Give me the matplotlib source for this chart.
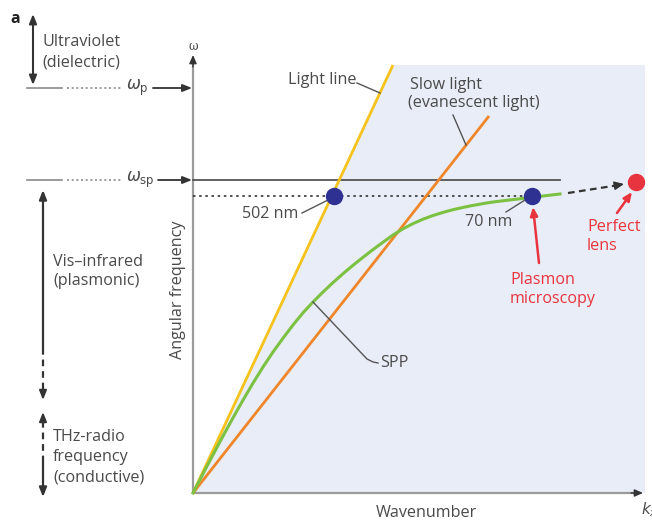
import matplotlib
matplotlib.use("Agg")
import matplotlib.pyplot as plt
from matplotlib.patches import Polygon

plt.rcParams['font.family'] = ['Open Sans', 'DejaVu Sans']

# ---- dispersion data (arbitrary units: wavenumber k, angular frequency w) ----
light_k = [0.0, 2.00]
light_w = [0.0, 4.28]

slow_k = [0.0, 2.96]
slow_w = [0.0, 3.77]

spp_k = [0.0, 0.1, 0.2, 0.3, 0.4, 0.5, 0.6, 0.7, 0.8, 0.9, 1.0, 1.1, 1.2,
         1.3, 1.4, 1.5, 1.6, 1.7, 1.8, 1.9, 2.0, 2.1, 2.2, 2.3, 2.4, 2.5,
         2.6, 2.7, 2.8, 2.9, 3.0, 3.1, 3.2, 3.3, 3.4, 3.5, 3.67]
spp_w = [0.0, 0.192, 0.382, 0.569, 0.752, 0.929, 1.099, 1.260, 1.410,
         1.548, 1.680, 1.802, 1.910, 2.010, 2.104, 2.193, 2.277, 2.357,
         2.434, 2.508, 2.580, 2.642, 2.694, 2.738, 2.775, 2.806, 2.833,
         2.856, 2.876, 2.894, 2.910, 2.922, 2.934, 2.946, 2.958, 2.970,
         2.990]

w_p = 4.05
w_sp = 3.13
w_sp_end = 3.67
w_dot = 2.97

dot_502_k, dot_502_w = 1.41, 2.97
dot_70_k, dot_70_w = 3.39, 2.97
lens_k, lens_w = 4.43, 3.11

shade_top = 4.28
shade_right = 4.52
k_axis_end = 4.50
w_axis_end = 4.38

# ---- colours ----
c_text = '#4a4a4a'
c_axis = '#9b9b9b'
c_dark = '#333333'
c_yellow = '#f6c21c'
c_orange = '#f0862a'
c_green = '#7cc142'
c_navy = '#2e3192'
c_red = '#e8343e'
c_shade = '#e8edf7'

fig = plt.figure(figsize=(6.52, 5.25), dpi=100)
ax = fig.add_axes([0, 0, 1, 1])
ax.set_xlim(-1.93, 4.59)
ax.set_ylim(-0.32, 4.93)
ax.axis('off')

fs = 11.6

# shaded evanescent region to the right of the light line
ax.add_patch(Polygon([(0, 0), (light_k[1], shade_top), (shade_right, shade_top),
                      (shade_right, 0)], closed=True, facecolor=c_shade,
                     edgecolor='none', zorder=0))

# axes with arrows
ax.plot([0, 0], [0, w_axis_end - 0.05], color=c_axis, lw=1.6, zorder=2,
        solid_capstyle='butt')
ax.plot([0, k_axis_end - 0.05], [0, 0], color=c_axis, lw=1.6, zorder=2,
        solid_capstyle='butt')
ax.annotate('', xy=(0, w_axis_end), xytext=(0, w_axis_end - 0.12),
            arrowprops=dict(arrowstyle='-|>,head_length=0.5,head_width=0.22',
                            color=c_dark, lw=1.0, shrinkA=0, shrinkB=0),
            zorder=3)
ax.annotate('', xy=(k_axis_end, 0), xytext=(k_axis_end - 0.12, 0),
            arrowprops=dict(arrowstyle='-|>,head_length=0.5,head_width=0.22',
                            color=c_dark, lw=1.0, shrinkA=0, shrinkB=0),
            zorder=3)
ax.text(0, w_axis_end + 0.02, 'ω', fontsize=8.5, color=c_text, ha='center',
        va='bottom', family=['DejaVu Serif'])
ax.text(4.48, -0.17, '$k_x$', fontsize=11, color=c_text, ha='left',
        va='center')
ax.text(2.33, -0.20, 'Wavenumber', fontsize=fs, color=c_text, ha='center',
        va='center')
ax.text(-0.15, 2.03, 'Angular frequency', fontsize=fs, color=c_text,
        ha='center', va='center', rotation=90)

# surface plasmon frequency and reference levels
ax.plot([0, w_sp_end], [w_sp, w_sp], color='#555555', lw=1.3, zorder=3)
ax.plot([0, dot_70_k], [w_dot, w_dot], color=c_dark, lw=1.2,
        ls=(0, (1.5, 2.2)), zorder=3)

# dispersion curves
ax.plot(light_k, light_w, color=c_yellow, lw=2.0, zorder=4,
        solid_capstyle='butt')
ax.plot(slow_k, slow_w, color=c_orange, lw=2.0, zorder=4,
        solid_capstyle='butt')
ax.plot(spp_k, spp_w, color=c_green, lw=2.2, zorder=5)

# markers
ax.plot([dot_502_k, dot_70_k], [dot_502_w, dot_70_w], 'o', ms=11.5,
        color=c_navy, zorder=6)
ax.plot([lens_k], [lens_w], 'o', ms=11.5, color=c_red, zorder=6,
        clip_on=False)

# dashed arrow toward the perfect lens
ax.plot([3.75, 4.23], [3.00, 3.075], color=c_dark, lw=1.6,
        ls=(0, (3, 2)), zorder=5)
ax.annotate('', xy=(4.31, 3.09), xytext=(4.21, 3.072),
            arrowprops=dict(arrowstyle='-|>,head_length=0.55,head_width=0.25',
                            color=c_dark, lw=1.2, shrinkA=0, shrinkB=0),
            zorder=5)

# labels with leader lines
leader = dict(color='#555555', lw=1.0, zorder=5)
ax.text(0.95, 4.13, 'Light line', fontsize=fs, color=c_text, ha='left',
        va='center')
ax.plot([1.64, 1.87], [4.10, 4.00], **leader)

ax.text(2.17, 4.08, 'Slow light', fontsize=fs, color=c_text, ha='left',
        va='center')
ax.text(2.15, 3.90, '(evanescent light)', fontsize=fs, color=c_text,
        ha='left', va='center')
ax.plot([2.60, 2.73], [3.78, 3.48], **leader)

ax.text(0.49, 2.79, '502 nm', fontsize=fs, color=c_text, ha='left',
        va='center')
ax.plot([1.09, 1.35], [2.80, 2.93], **leader)

ax.text(2.72, 2.71, '70 nm', fontsize=fs, color=c_text, ha='left',
        va='center')
ax.plot([3.13, 3.32], [2.81, 2.93], **leader)

ax.text(1.87, 1.30, 'SPP', fontsize=fs, color=c_text, ha='left',
        va='center')
ax.plot([1.20, 1.74, 1.80, 1.85], [1.91, 1.34, 1.31, 1.30], **leader)

# plasmon microscopy / perfect lens callouts
ax.annotate('', xy=(3.40, 2.86), xytext=(3.46, 2.30),
            arrowprops=dict(arrowstyle='-|>,head_length=0.5,head_width=0.22',
                            color=c_red, lw=1.8, shrinkA=0, shrinkB=0),
            zorder=6)
ax.text(3.17, 2.13, 'Plasmon', fontsize=fs, color=c_red, ha='left',
        va='center')
ax.text(3.17, 1.94, 'microscopy', fontsize=fs, color=c_red, ha='left',
        va='center')

ax.annotate('', xy=(4.39, 3.01), xytext=(4.24, 2.80),
            arrowprops=dict(arrowstyle='-|>,head_length=0.5,head_width=0.22',
                            color=c_red, lw=1.8, shrinkA=0, shrinkB=0),
            zorder=6)
ax.text(3.94, 2.66, 'Perfect', fontsize=fs, color=c_red, ha='left',
        va='center')
ax.text(3.94, 2.47, 'lens', fontsize=fs, color=c_red, ha='left',
        va='center')

# ---- left-hand regime annotations ----
ax.text(-1.78, 4.74, 'a', fontsize=11.5, fontweight='bold', color='#222222',
        ha='center', va='center')

def level_marker(w, label):
    ax.plot([-1.66, -1.31], [w, w], color='#8a8a8a', lw=1.2, clip_on=False)
    ax.plot([-1.26, -0.71], [w, w], color='#8a8a8a', lw=1.2,
            ls=(0, (1.2, 1.6)), clip_on=False)
    ax.text(-0.67, w, label, fontsize=12, color=c_text, ha='left',
            va='center')

level_marker(w_p, r'$\omega_{\rm p}$')
level_marker(w_sp, r'$\omega_{\rm sp}$')

ax.annotate('', xy=(-0.01, w_p), xytext=(-0.40, w_p),
            arrowprops=dict(arrowstyle='-|>,head_length=0.55,head_width=0.22',
                            color=c_dark, lw=1.3, shrinkA=0, shrinkB=0))
ax.annotate('', xy=(-0.01, w_sp), xytext=(-0.35, w_sp),
            arrowprops=dict(arrowstyle='-|>,head_length=0.55,head_width=0.22',
                            color=c_dark, lw=1.3, shrinkA=0, shrinkB=0))

head = 'head_length=0.55,head_width=0.22'
# ultraviolet double arrow
ax.annotate('', xy=(-1.60, 4.79), xytext=(-1.60, 4.08),
            arrowprops=dict(arrowstyle='<|-|>,' + head, color=c_dark,
                            lw=1.5, shrinkA=0, shrinkB=0))
ax.text(-1.51, 4.51, 'Ultraviolet', fontsize=fs, color=c_text, ha='left',
        va='center')
ax.text(-1.51, 4.31, '(dielectric)', fontsize=fs, color=c_text, ha='left',
        va='center')

# visible-infrared range
xv = -1.50
ax.annotate('', xy=(xv, 3.03), xytext=(xv, 1.45),
            arrowprops=dict(arrowstyle='-|>,' + head, color=c_dark, lw=1.6,
                            shrinkA=0, shrinkB=0))
ax.plot([xv, xv], [1.45, 1.02], color=c_dark, lw=1.6, ls=(0, (3, 2.2)))
ax.annotate('', xy=(xv, 0.93), xytext=(xv, 1.03),
            arrowprops=dict(arrowstyle='-|>,' + head, color=c_dark, lw=1.4,
                            shrinkA=0, shrinkB=0))
ax.text(-1.40, 2.31, 'Vis–infrared', fontsize=fs, color=c_text, ha='left',
        va='center')
ax.text(-1.40, 2.12, '(plasmonic)', fontsize=fs, color=c_text, ha='left',
        va='center')

# THz-radio range
ax.annotate('', xy=(xv, 0.81), xytext=(xv, 0.71),
            arrowprops=dict(arrowstyle='-|>,' + head, color=c_dark, lw=1.4,
                            shrinkA=0, shrinkB=0))
ax.plot([xv, xv], [0.72, 0.36], color=c_dark, lw=1.6, ls=(0, (3, 2.2)))
ax.annotate('', xy=(xv, -0.04), xytext=(xv, 0.36),
            arrowprops=dict(arrowstyle='-|>,' + head, color=c_dark, lw=1.6,
                            shrinkA=0, shrinkB=0))
ax.text(-1.40, 0.56, 'THz-radio', fontsize=fs, color=c_text, ha='left',
        va='center')
ax.text(-1.40, 0.36, 'frequency', fontsize=fs, color=c_text, ha='left',
        va='center')
ax.text(-1.40, 0.16, '(conductive)', fontsize=fs, color=c_text, ha='left',
        va='center')

fig.savefig('out.png', dpi=100)
